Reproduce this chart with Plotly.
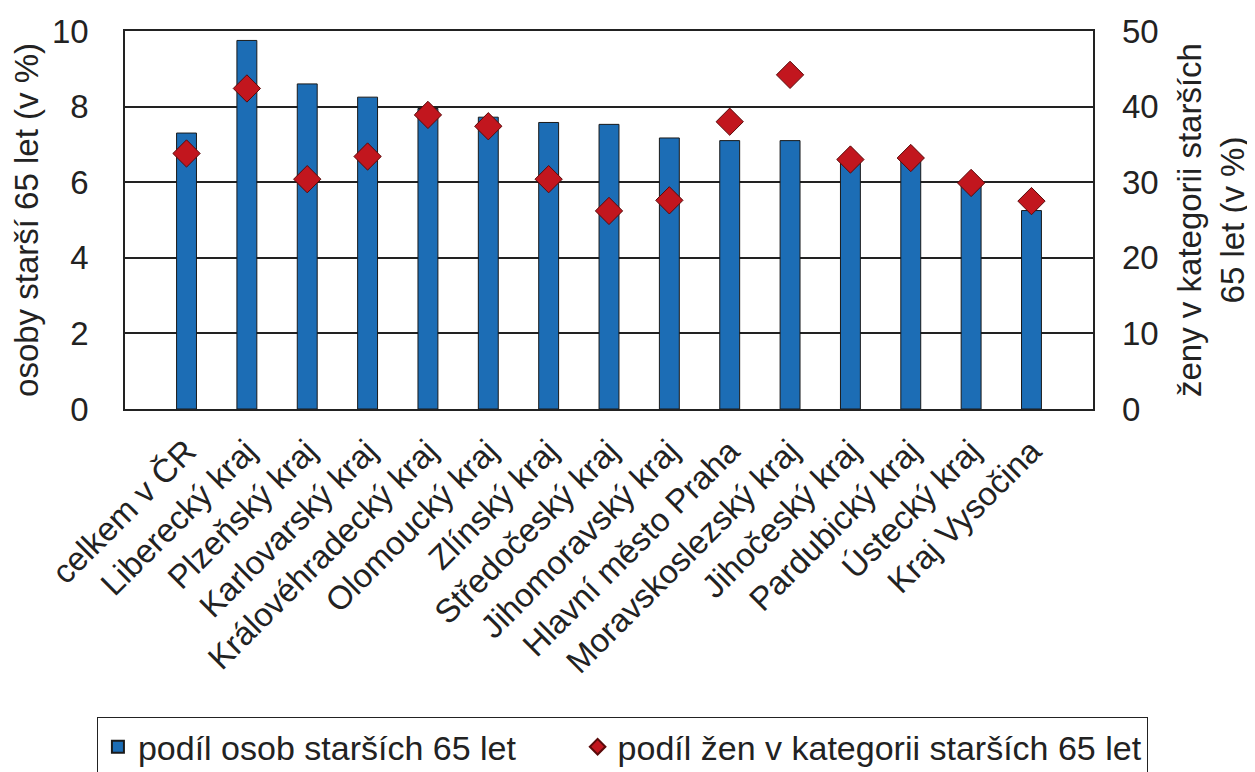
import plotly.graph_objects as go

categories = ["celkem v ČR", "Liberecký kraj", "Plzeňský kraj", "Karlovarský kraj",
              "Královéhradecký kraj", "Olomoucký kraj", "Zlínský kraj", "Středočeský kraj",
              "Jihomoravský kraj", "Hlavní město Praha", "Moravskoslezský kraj",
              "Jihočeský kraj", "Pardubický kraj", "Ústecký kraj", "Kraj Vysočina"]
podil_osob = [7.3, 9.75, 8.6, 8.25, 7.95, 7.72, 7.58, 7.53, 7.17, 7.1, 7.1, 6.55, 6.58, 5.95, 5.25]
podil_zen = [33.8, 42.4, 30.4, 33.4, 38.9, 37.4, 30.4, 26.2, 27.6, 38.0, 44.2, 33.0, 33.2, 29.9, 27.5]

FONT = "Liberation Sans, Arial, sans-serif"
fig = go.Figure()
fig.add_trace(go.Bar(
    x=categories, y=podil_osob, name="podíl osob starších 65 let" + "\u00a0" * 6,
    marker=dict(color="#1c6db5", line=dict(color="#1a1a1a", width=1)),
    yaxis="y"))
fig.add_trace(go.Scatter(
    x=categories, y=podil_zen, name="podíl žen v kategorii starších 65 let",
    mode="markers",
    marker=dict(symbol="diamond", size=21, color="#c2161e", line=dict(color="#5a0a0a", width=1)),
    yaxis="y2"))

fig.update_layout(
    width=1255, height=772,
    margin=dict(l=117, r=170, t=23, b=371, autoexpand=False),
    paper_bgcolor="white", plot_bgcolor="white",
    font=dict(family=FONT, size=33, color="#222"),
    bargap=0.67,
    showlegend=True,
    legend=dict(orientation="h", x=-0.029, xanchor="left", y=-0.815, yanchor="top",
                bordercolor="#222", borderwidth=1, font=dict(size=34), itemsizing="constant",
                itemwidth=30, tracegroupgap=0),
    xaxis=dict(tickangle=-45, showline=True, linecolor="#222", linewidth=1.5, mirror=True,
               ticks="", tickfont=dict(size=33), ticklabelstandoff=8),
    yaxis=dict(range=[0, 10], dtick=2, showgrid=True, gridcolor="#222", gridwidth=1.5,
               showline=True, linecolor="#222", linewidth=1.5, mirror=True, ticks="",
               tickfont=dict(size=33),
               title=dict(text="osoby starší 65 let (v %)", font=dict(size=33), standoff=8),
               zeroline=False, ticklabelstandoff=28),
    yaxis2=dict(range=[0, 50], dtick=10, overlaying="y", side="right", showgrid=False,
                ticks="", zeroline=False, ticklabelstandoff=28, tickfont=dict(size=33),
                title=dict(text="ženy v kategorii starších<br>65 let (v %)", font=dict(size=33), standoff=20)),
)
fig.write_html("out.html")
